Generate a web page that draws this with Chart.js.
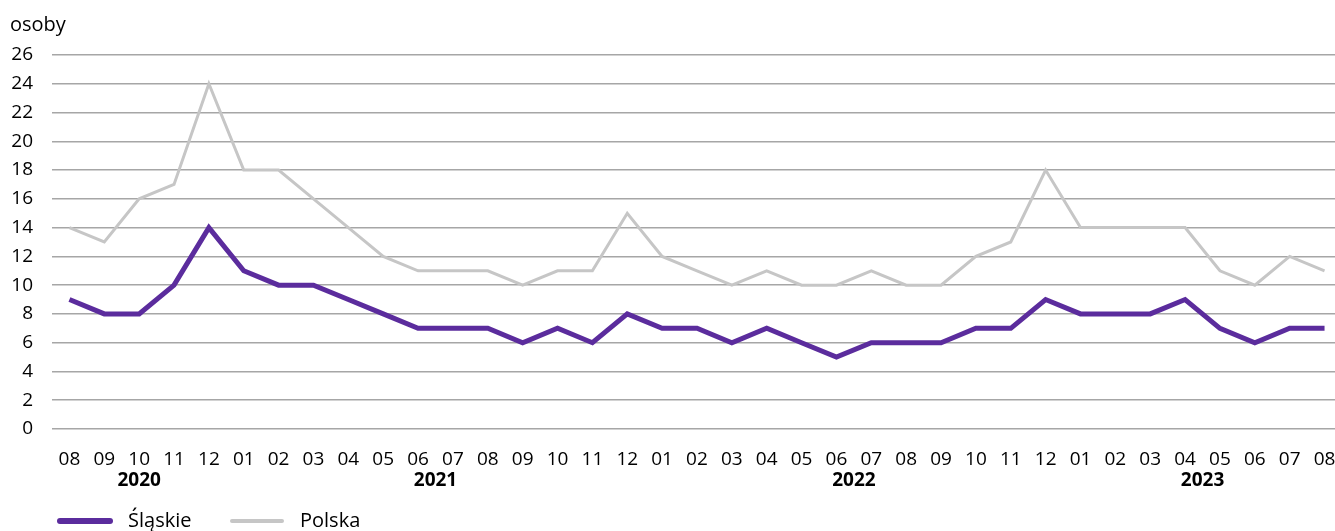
<!DOCTYPE html>
<html>
<head>
<meta charset="utf-8">
<script src="https://cdn.jsdelivr.net/npm/chart.js@4"></script>
<style>
  html, body { margin: 0; padding: 0; background: #fff; }
  #wrap { width: 1335px; height: 531px; }
</style>
</head>
<body>
<div id="wrap"><canvas id="chart"></canvas></div>
<script>
// miesiące 08.2020 - 08.2023
const months = ['08','09','10','11','12',
  '01','02','03','04','05','06','07','08','09','10','11','12',
  '01','02','03','04','05','06','07','08','09','10','11','12',
  '01','02','03','04','05','06','07','08'];
// grupy lat: [etykieta, pierwszy indeks, ostatni indeks]
const years = [['2020', 0, 4], ['2021', 5, 16], ['2022', 17, 28], ['2023', 29, 36]];

const slaskie = [9, 8, 8, 10, 14, 11, 10, 10, 9, 8, 7, 7, 7, 6, 7, 6, 8,
  7, 7, 6, 7, 6, 5, 6, 6, 6, 7, 7, 9, 8, 8, 8, 9, 7, 6, 7, 7];
const polska = [14, 13, 16, 17, 24, 18, 18, 16, 14, 12, 11, 11, 11, 10, 11, 11, 15,
  12, 11, 10, 11, 10, 10, 11, 10, 10, 12, 13, 18, 14, 14, 14, 14, 11, 10, 12, 11];

const FONT = '"Open Sans", "Noto Sans", sans-serif';

// etykiety lat pod osią X
const yearLabels = {
  id: 'yearLabels',
  afterDraw(chart) {
    const ctx = chart.ctx;
    const x = chart.scales.x;
    ctx.save();
    ctx.font = 'bold 19px ' + FONT;
    ctx.fillStyle = '#000';
    ctx.textAlign = 'center';
    ctx.textBaseline = 'middle';
    years.forEach(([label, a, b]) => {
      ctx.fillText(label, x.getPixelForValue((a + b) / 2), x.top + 52);
    });
    ctx.restore();
  }
};

// legenda na dole (linie z zaokrąglonymi końcami)
const bottomLegend = {
  id: 'bottomLegend',
  afterDraw(chart) {
    const ctx = chart.ctx;
    const y = chart.height - 10;
    let x = 60;
    ctx.save();
    ctx.font = '20px ' + FONT;
    ctx.textBaseline = 'middle';
    chart.data.datasets.forEach(ds => {
      ctx.strokeStyle = ds.borderColor;
      ctx.lineWidth = ds.borderWidth + 1;
      ctx.lineCap = 'round';
      ctx.beginPath();
      ctx.moveTo(x, y);
      ctx.lineTo(x + 50, y);
      ctx.stroke();
      ctx.fillStyle = '#000';
      ctx.fillText(ds.label, x + 68, y);
      x += 172;
    });
    ctx.restore();
  }
};

new Chart(document.getElementById('chart'), {
  type: 'line',
  data: {
    datasets: [
      {
        label: 'Śląskie',
        data: slaskie.map((v, i) => ({ x: i, y: v })),
        borderColor: '#5b2c9d',
        borderWidth: 5,
        pointRadius: 0,
        tension: 0,
        order: 1
      },
      {
        label: 'Polska',
        data: polska.map((v, i) => ({ x: i, y: v })),
        borderColor: '#c6c6c6',
        borderWidth: 3,
        pointRadius: 0,
        tension: 0,
        order: 2
      }
    ]
  },
  plugins: [yearLabels, bottomLegend],
  options: {
    responsive: true,
    maintainAspectRatio: false,
    animation: false,
    layout: { padding: { left: 10, right: 0, top: 0, bottom: 30 } },
    plugins: {
      title: {
        display: true,
        text: 'osoby',
        align: 'start',
        color: '#000',
        font: { family: FONT, size: 20, weight: 'normal' },
        padding: { top: 13, bottom: 18 }
      },
      legend: { display: false },
      tooltip: { enabled: false }
    },
    scales: {
      x: {
        type: 'linear',
        min: -0.5,
        max: 36.3,
        afterBuildTicks: s => { s.ticks = months.map((m, i) => ({ value: i })); },
        afterFit: s => { s.height = 72; s.paddingLeft = 0; s.paddingRight = 0; },
        ticks: {
          color: '#000',
          font: { family: FONT, size: 19 },
          padding: 11,
          maxRotation: 0,
          autoSkip: false,
          callback: v => months[v]
        },
        grid: { display: false },
        border: { display: false }
      },
      y: {
        min: 0,
        max: 26,
        afterFit: s => { s.width = 42; },
        ticks: {
          stepSize: 2,
          color: '#000',
          font: { family: FONT, size: 19 },
          padding: 19
        },
        grid: { color: '#a6a6a6', lineWidth: 1.5, drawTicks: false },
        border: { display: false }
      }
    }
  }
});
</script>
</body>
</html>
